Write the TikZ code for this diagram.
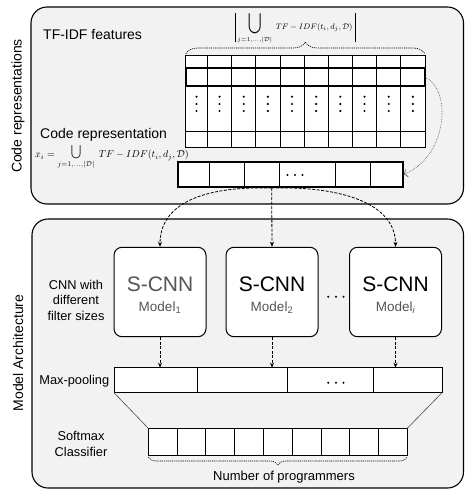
\documentclass[tikz,border=0pt]{standalone}
\usepackage[no-math]{fontspec}
\setmainfont{Liberation Sans}
\usetikzlibrary{arrows.meta,decorations.pathreplacing}
\definecolor{panelfill}{RGB}{242,242,242}
\definecolor{txtgray}{RGB}{85,85,85}
% scaled union operator: #1 x-scale, #2 y-scale, #3 raise, #4 limits
\newcommand{\unionop}[4]{\mathop{\hbox{\raise#3\hbox{$\vcenter{\hbox{\scalebox{#1}[#2]{$\displaystyle\bigcup$}}}$}}}\limits_{#4}}
\newcommand{\absbar}{\vrule height 16.8pt depth 12.2pt width 0.6pt}
\begin{document}
\begin{tikzpicture}[x=1pt,y=-1pt,
  panel/.style={draw=black, line width=1.1pt, fill=panelfill, rounded corners=16pt},
  cellbox/.style={draw=black, line width=0.8pt, fill=white, inner sep=0pt, outer sep=0pt, anchor=north west},
  thickbox/.style={draw=black, line width=2.2pt, inner sep=0pt, outer sep=0pt, anchor=north west},
  modelbox/.style={draw=black, line width=1pt, fill=white, rounded corners=8pt, minimum width=92pt, minimum height=89.4pt, inner sep=0pt},
  flow/.style={dash pattern=on 3pt off 1.5pt, line width=0.8pt, -{Stealth[length=5pt,width=4pt]}},
  feed/.style={densely dotted, black!70, line width=0.6pt, -{To[length=4pt]}},
  bracedots/.style={decorate, dash pattern=on 1.2pt off 0.9pt, line width=0.6pt},
  sidelabel/.style={rotate=90, font=\fontsize{14}{16}\selectfont, inner sep=0pt},
  headlabel/.style={font=\fontsize{14}{16}\selectfont, inner sep=0pt, anchor=base west},
  smalllabel/.style={font=\fontsize{12.8}{15.5}\selectfont, inner sep=0pt, align=center},
  bigtext/.style={font=\fontsize{21}{24}\selectfont, inner sep=0pt, anchor=base},
  modeltext/.style={font=\fontsize{13.5}{16}\selectfont, inner sep=0pt, anchor=base, text=txtgray},
  formula/.style={inner sep=0pt}
]
\useasboundingbox (0,0) rectangle (465,490);

% panels
\draw[panel] (31,7) rectangle (463.5,204);
\draw[panel] (32,219) rectangle (463.5,488);

\node[sidelabel] (labcode) at (18,106) {Code representations};
\node[sidelabel] (labmodel) at (18,353) {Model Architecture};

% ---------- TF-IDF matrix ----------
\node[headlabel] (tfidf) at (43,39) {TF-IDF features};
\node[cellbox, minimum width=239.3pt, minimum height=92.7pt] (tfmat) at (185.7,55) {};
\foreach \yy in {68.3,86,131.7} \draw[line width=0.8pt] (185.7,\yy) -- (425,\yy);
\foreach \xx in {207.3,231.7,255.7,280,304,328.3,352.3,376.7,400.7}
  \draw[line width=0.8pt] (\xx,55) -- (\xx,147.7);
\foreach \xx in {196.5,219.5,243.7,267.85,292,316.15,340.3,364.5,388.7,412.85}
  \foreach \yy in {96.7,104,111} \fill (\xx,\yy) circle (1.2pt);
\node[thickbox, minimum width=239.3pt, minimum height=17.7pt] (tfrow) at (185.7,68.3) {};

\draw[bracedots, decoration={brace, amplitude=12pt}] (tfmat.north west) ++(0,-1) -- ++(239.3,0);
\node[formula, anchor=base, font=\fontsize{8.3}{9}\selectfont] (sumtop) at (295,29.5)
  {$\absbar\;\unionop{1.2}{1.45}{4pt}{j=1,\ldots,|\mathcal{D}|}\; TF-IDF(t_i,d_j,\mathcal{D})\;\absbar$};

% ---------- code representation vector ----------
\node[headlabel] (coderep) at (40,138.3) {Code representation};
\node[formula, anchor=base west, font=\fontsize{9.8}{11}\selectfont] (sumbot) at (35,157.5)
  {$x_i=\unionop{0.9}{0.95}{3.3pt}{j=1,\ldots,|\mathcal{D}|}\; TF-IDF(t_i,d_j,\mathcal{D})$};

\node[cellbox, minimum width=225pt, minimum height=24.4pt] (codevec) at (178.3,162.3) {};
\foreach \xx in {209.3,244.3,279.3,335,370.7}
  \draw[line width=0.8pt] (\xx,162.3) -- (\xx,186.7);
\node[thickbox, minimum width=225pt, minimum height=24.4pt] (codevecb) at (178.3,162.3) {};
\foreach \xx in {287.5,295,302.5} \fill (\xx,175) circle (1.1pt);

\draw[feed] (tfrow.east) .. controls +(27,12) and +(45,-18) .. (codevecb.east);

% ---------- models ----------
\coordinate (split) at (271.7,188);
\node[modelbox] (m1) at (160,292) {};
\node[modelbox] (m2) at (272,292) {};
\node[modelbox] (m3) at (395.5,292) {};

\node[bigtext, text=txtgray] (s1) at (160,291.7) {S-CNN};
\node[bigtext] (s2) at (272,291.7) {S-CNN};
\node[bigtext] (s3) at (395.5,291.7) {S-CNN};
\node[modeltext] (l1) at (160,311) {Model\textsubscript{1}};
\node[modeltext] (l2) at (272,311) {Model\textsubscript{2}};
\node[modeltext] (l3) at (395.5,311) {Model\textsubscript{\itshape i}};
\foreach \xx in {328.3,336,343.5} \fill (\xx,296.7) circle (1.1pt);

\node[smalllabel] (cnnlab) at (76,300) {CNN with\\different\\filter sizes};

\draw[flow] (split) .. controls (200,186) and (160,205) .. (m1.north);
\draw[flow] (split) -- (m2.north);
\draw[flow] (split) .. controls (345,186) and (395.5,205) .. (m3.north);

% ---------- max pooling ----------
\node[smalllabel, anchor=base] (maxlab) at (74.3,384) {Max-pooling};
\node[cellbox, minimum width=328pt, minimum height=25pt] (maxpool) at (114,367.7) {};
\foreach \xx in {197.7,287.3,373.3}
  \draw[line width=0.8pt] (\xx,367.7) -- (\xx,392.7);
\foreach \xx in {328.3,336,343.5} \fill (\xx,382.7) circle (1.1pt);

\draw[flow] (m1.south) -- (m1.south |- maxpool.north);
\draw[flow] (m2.south) -- (m2.south |- maxpool.north);
\draw[flow] (m3.south) -- (m3.south |- maxpool.north);

% ---------- softmax ----------
\node[smalllabel] (softlab) at (81,444) {Softmax\\Classifier};
\node[cellbox, minimum width=259pt, minimum height=26.7pt] (softmax) at (148.3,428.3) {};
\foreach \i in {1,...,8}
  \draw[line width=0.8pt] (148.3+28.78*\i,428.3) -- (148.3+28.78*\i,455);

\draw[line width=0.6pt, black!70] (maxpool.south west) -- (softmax.north west);
\draw[line width=0.6pt, black!70] (maxpool.south east) -- (softmax.north east);

\draw[bracedots, decoration={brace, mirror, amplitude=8pt}] (softmax.south west) ++(0,2) -- ++(259,0);
\node[smalllabel, anchor=base, font=\fontsize{13}{15}\selectfont] (numprog) at (284,480) {Number of programmers};

\end{tikzpicture}
\end{document}
